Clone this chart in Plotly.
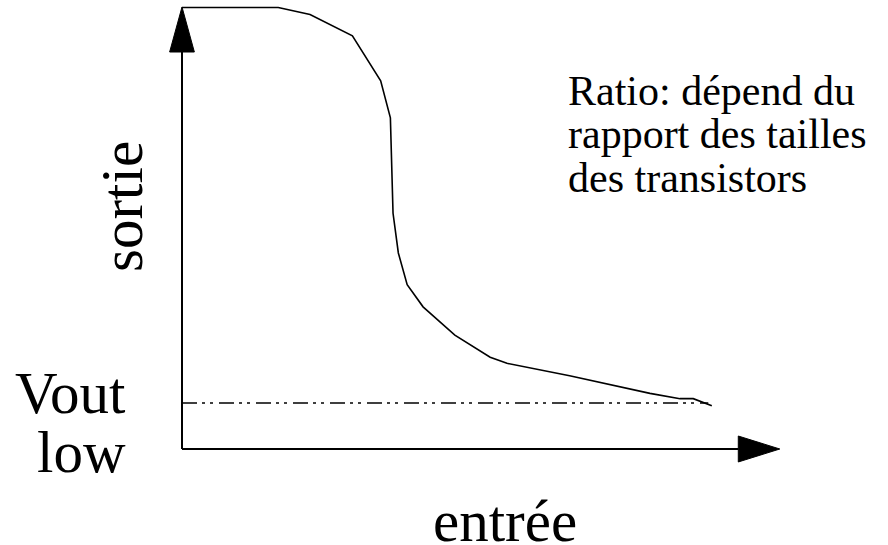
import plotly.graph_objects as go

# Transfer curve (entrée -> sortie), in volts
entree = [0.0, 1.09, 1.45, 1.93, 2.25, 2.36, 2.39, 2.45, 2.55, 2.73, 3.09, 3.49, 3.68, 4.39, 5.30, 5.64, 5.79, 6.00]
sortie = [5.0, 5.0, 4.92, 4.68, 4.17, 3.75, 2.67, 2.22, 1.86, 1.61, 1.29, 1.04, 0.97, 0.83, 0.63, 0.57, 0.57, 0.49]

vout_low = 0.52
vout_low_end = 5.96
x_axis_end = 6.77
y_axis_end = 5.006

FONT = "Liberation Serif"

fig = go.Figure()

# dash-dot-dot Vout low level
fig.add_trace(go.Scatter(x=[0, vout_low_end], y=[vout_low, vout_low], mode="lines",
                         line=dict(color="black", width=1.5, dash="15px,5px,3px,5px,3px,6px"),
                         hoverinfo="skip"))

# axes lines
x_head_len = 0.47
y_head_len = 0.51
fig.add_trace(go.Scatter(x=[0, x_axis_end - x_head_len], y=[0, 0], mode="lines",
                         line=dict(color="black", width=2), hoverinfo="skip"))
fig.add_trace(go.Scatter(x=[0, 0], y=[0, y_axis_end - y_head_len], mode="lines",
                         line=dict(color="black", width=2), hoverinfo="skip"))

# arrow heads
hw_x = 0.147
hw_y = 0.14
fig.add_trace(go.Scatter(x=[x_axis_end - x_head_len, x_axis_end, x_axis_end - x_head_len, x_axis_end - x_head_len],
                         y=[hw_x, 0, -hw_x, hw_x], mode="lines", fill="toself",
                         fillcolor="black", line=dict(color="black", width=1), hoverinfo="skip"))
fig.add_trace(go.Scatter(x=[-hw_y, 0, hw_y, -hw_y],
                         y=[y_axis_end - y_head_len, y_axis_end, y_axis_end - y_head_len, y_axis_end - y_head_len],
                         mode="lines", fill="toself",
                         fillcolor="black", line=dict(color="black", width=1), hoverinfo="skip"))

# transfer curve
fig.add_trace(go.Scatter(x=entree, y=sortie, mode="lines",
                         line=dict(color="black", width=1.6), hoverinfo="skip"))

big = 59
small = 42
ann = [
    dict(text="Vout", x=128, y=393, xanchor="right", size=big, angle=0),
    dict(text="low", x=128, y=452, xanchor="right", size=big, angle=0),
    dict(text="sortie", x=122, y=207, xanchor="center", size=big, angle=-90),
    dict(text="entrée", x=505, y=521, xanchor="center", size=big, angle=0),
    dict(text="Ratio: dépend du", x=566, y=91, xanchor="left", size=small, angle=0),
    dict(text="rapport des tailles", x=566, y=134, xanchor="left", size=small, angle=0),
    dict(text="des transistors", x=566, y=178, xanchor="left", size=small, angle=0),
]
for a in ann:
    fig.add_annotation(text=a["text"], x=a["x"] / 888, y=1 - a["y"] / 545, xref="paper", yref="paper",
                       xanchor=a["xanchor"], yanchor="middle", showarrow=False, textangle=a["angle"],
                       font=dict(family=FONT, size=a["size"], color="black"))

px_per_v = 88.3
fig.update_layout(
    width=888, height=545, margin=dict(l=0, r=0, t=0, b=0),
    paper_bgcolor="white", plot_bgcolor="white", showlegend=False,
    xaxis=dict(range=[-182 / px_per_v, (888 - 182) / px_per_v], visible=False, fixedrange=True),
    yaxis=dict(range=[(449 - 545) / px_per_v, 449 / px_per_v], visible=False, fixedrange=True),
)

fig.write_html("out.html", config={"displayModeBar": False},
               post_script="document.body.style.margin='0';document.body.style.overflow='hidden';")
